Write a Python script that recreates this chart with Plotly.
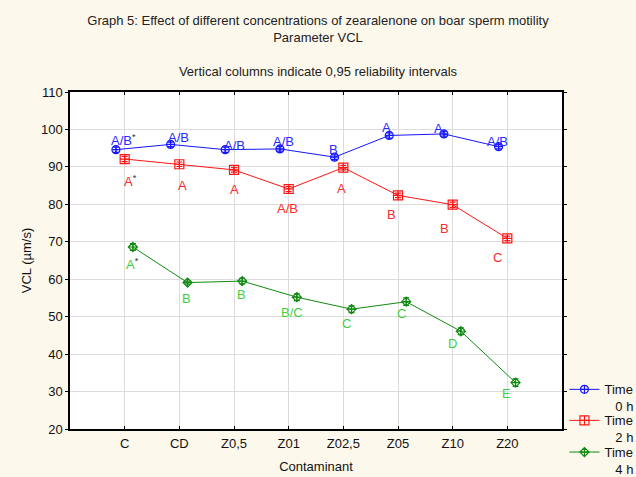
import plotly.graph_objects as go

categories = ["C", "CD", "Z0,5", "Z01", "Z02,5", "Z05", "Z10", "Z20"]
time0 = [94.6, 96.0, 94.6, 94.8, 92.6, 98.4, 98.8, 95.4]
time2 = [92.1, 90.7, 89.2, 84.1, 89.8, 82.4, 79.9, 70.9]
time4 = [68.6, 59.1, 59.5, 55.2, 52.0, 54.0, 46.1, 32.4]
err0 = [0.7, 0.6, 0.7, 0.6, 0.6, 0.7, 0.6, 0.6]
err2 = [0.7, 0.6, 0.6, 0.7, 0.6, 0.6, 0.7, 0.6]
err4 = [0.9, 0.4, 0.75, 0.9, 0.9, 1.0, 0.9, 1.0]
labels0 = ["A/B*", "A/B", "A/B", "A/B", "B", "A", "A", "A/B"]
labels2 = ["A*", "A", "A", "A/B", "A", "B", "B", "C"]
labels4 = ["A*", "B", "B", "B/C", "C", "C", "D", "E"]
series_names = ["Time<br>\u00a0\u00a0\u00a00 h", "Time<br>\u00a0\u00a0\u00a02 h", "Time<br>\u00a0\u00a0\u00a04 h"]
yticks = [20, 30, 40, 50, 60, 70, 80, 90, 100, 110]

# styling (offsets of series along category axis, label pixel shifts)
x_offsets = [-0.16, 0.0, 0.15]
line_colors = ["#1515ff", "#ff1515", "#118a11"]
label_colors = ["#2a2aff", "#ff2a2a", "#3fcf3f"]
symbols = ["circle-cross-open", "square-cross-open", "diamond-cross-open"]
msizes = [8, 9, 7]
legend_ids = ["legend", "legend2", "legend3"]
legend_y = [0.162, 0.070, -0.024]
label_dx = [[8, 8, 9, 4, -1, -3, -5, -1],
            [6, 3, 0, -1, -2, -7, -8, -10],
            [0, -1, -1, -5, -5, -5, -8, -9]]
label_dy = [[-10, -7, -4, -7, -8, -8, -5, -5],
            [22, 21, 20, 20, 21, 19, 24, 19],
            [17, 16, 13, 15, 14, 12, 12, 11]]

font = "Liberation Sans, Arial, sans-serif"
fig = go.Figure()
values = [time0, time2, time4]
errs = [err0, err2, err4]
labels = [labels0, labels2, labels4]

for s in range(3):
    xs = [i + x_offsets[s] for i in range(len(categories))]
    fig.add_trace(go.Scatter(
        x=xs, y=values[s], name=series_names[s], mode="lines+markers",
        legend=legend_ids[s],
        line=dict(color=line_colors[s], width=1),
        marker=dict(symbol=symbols[s], size=msizes[s], color=line_colors[s],
                    line=dict(width=1.2, color=line_colors[s])),
        error_y=dict(type="data", array=errs[s], visible=True,
                     color=line_colors[s], thickness=1.2, width=3),
    ))
    for i, lab in enumerate(labels[s]):
        txt = lab
        if lab.endswith("*"):
            txt = lab[:-1] + "<sup><span style='color:#333333'>*</span></sup>"
        fig.add_annotation(
            x=xs[i], y=values[s][i], text=txt, showarrow=False,
            xshift=label_dx[s][i], yshift=-label_dy[s][i],
            font=dict(family=font, size=13, color=label_colors[s]),
            xanchor="center", yanchor="middle",
        )

legend_common = dict(x=1.005, xanchor="left", yanchor="top", valign="top",
                     bgcolor="rgba(0,0,0,0)", font=dict(family=font, size=13, color="#111111"),
                     itemwidth=30)

fig.update_layout(
    width=636, height=477,
    paper_bgcolor="#fdf8ec", plot_bgcolor="#ffffff",
    margin=dict(l=70, r=74, t=92, b=48, autoexpand=False),
    font=dict(family=font, size=12, color="#111111"),
    title=dict(
        text="Graph 5: Effect of different concentrations of zearalenone on boar sperm motility"
             "<br>Parameter VCL<br><br>Vertical columns indicate 0,95 reliability intervals",
        x=0.5, xanchor="center", y=0.948, yanchor="top",
        font=dict(family=font, size=13, color="#222222"),
    ),
    showlegend=True,
    legend=dict(y=legend_y[0], **legend_common),
    legend2=dict(y=legend_y[1], **legend_common),
    legend3=dict(y=legend_y[2], **legend_common),
    xaxis=dict(
        range=[-1, 8], tickvals=list(range(len(categories))), ticktext=categories,
        showgrid=True, gridcolor="#dcdcdc", gridwidth=1,
        showline=True, linecolor="#000000", linewidth=1.5, mirror="ticks",
        ticks="inside", ticklen=3, tickcolor="#000000",
        ticklabelstandoff=2,
        title=dict(text="Contaminant", standoff=12, font=dict(size=13)),
        zeroline=False, tickfont=dict(size=13),
    ),
    yaxis=dict(
        range=[20, 110], tickvals=yticks,
        showgrid=True, gridcolor="#dcdcdc", gridwidth=1,
        showline=True, linecolor="#000000", linewidth=1.5, mirror="ticks",
        ticks="outside", ticklen=3, tickcolor="#000000",
        title=dict(text="VCL (µm/s)", standoff=6, font=dict(size=13)),
        zeroline=False, tickfont=dict(size=13),
    ),
)

fig.write_html("out.html", config={"displayModeBar": False},
               post_script="document.body.style.margin='0';")
